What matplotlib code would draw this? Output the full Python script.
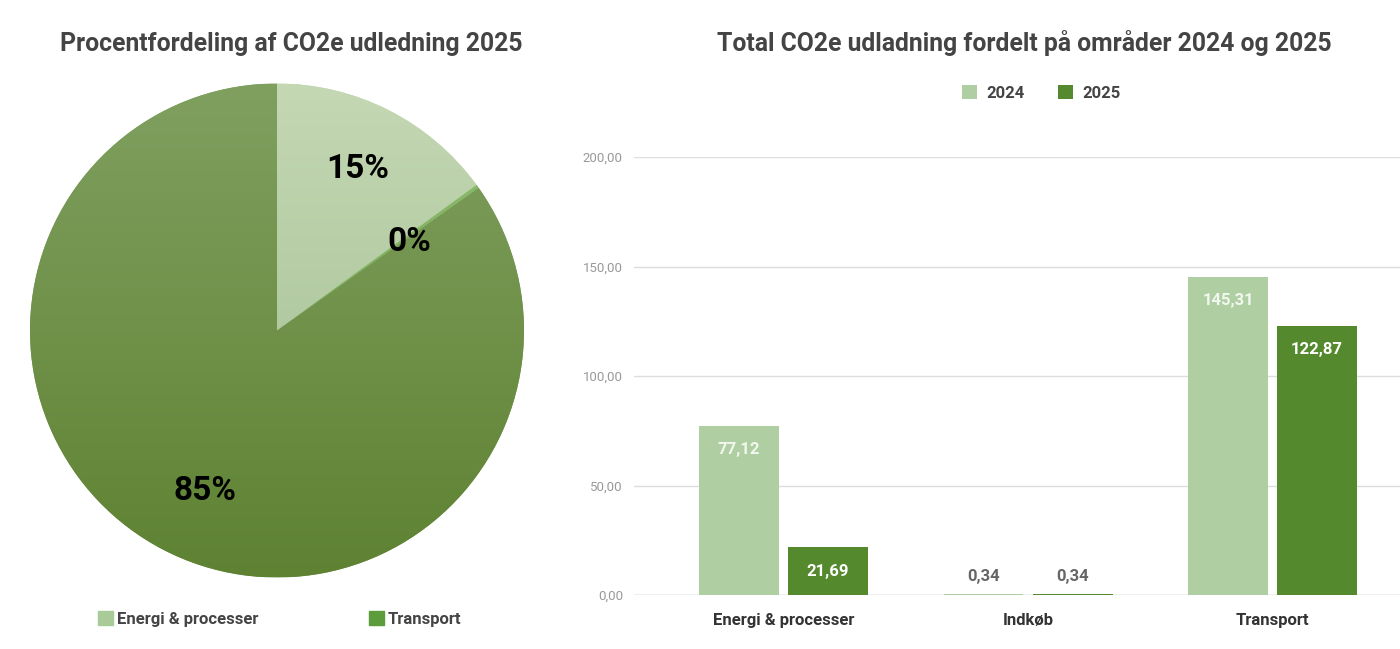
import matplotlib
matplotlib.use('Agg')
import matplotlib.pyplot as plt
import numpy as np
from matplotlib.colors import LinearSegmentedColormap
from matplotlib.patches import Patch

plt.rcParams['font.family'] = ['Roboto', 'DejaVu Sans']

# data
categories = ['Energi & processer', 'Indkøb', 'Transport']
values_2024 = [77.12, 0.34, 145.31]
values_2025 = [21.69, 0.34, 122.87]
years = ['2024', '2025']
yticks = [0, 50, 100, 150, 200]

pie_title = 'Procentfordeling af CO2e udledning 2025'
bar_title = 'Total CO2e udladning fordelt på områder 2024 og 2025'

# colors
c_2024 = '#afcea2'
c_2025 = '#548a2d'
pie_grad = [('#c4d8b3', '#9fbb90'), ('#8fc070', '#6d9e4f'), ('#80a060', '#5e8232')]
pie_legend_cols = ['#a8cb98', '#5c9c3b']
txt_dark = '#444444'


def fmt(v):
    return f'{v:.2f}'.replace('.', ',')


fig = plt.figure(figsize=(14, 6.49), dpi=100)

# ---- pie ----
W, H = 1400, 649
axp = fig.add_axes([30 / W, (H - 578) / H, 494 / W, 495 / H])
wedges, texts, autotexts = axp.pie(values_2025, startangle=90, counterclock=False,
                                   autopct='%.0f%%', pctdistance=0.72,
                                   wedgeprops=dict(linewidth=0),
                                   textprops=dict(fontsize=24, fontweight='bold', color='black'))
grad = np.linspace(0, 1, 256).reshape(-1, 1)
for w, (top, bot) in zip(wedges, pie_grad):
    cmap = LinearSegmentedColormap.from_list('g', [top, bot])
    im = axp.imshow(grad, cmap=cmap, extent=(-1, 1, -1, 1), origin='upper',
                    interpolation='bilinear', aspect='auto', zorder=1.5)
    im.set_clip_path(w)
    w.set_facecolor(top)
# small nudges of the percentage labels
nudge = [(0.0, 0.01), (0.01, -0.02), (0.04, -0.01)]
for t, (dx, dy) in zip(autotexts, nudge):
    px, py = t.get_position()
    t.set_position((px + dx, py + dy))
    t.set_zorder(3)
px, py = autotexts[1].get_position()
autotexts[1].set_position((px * 0.9, py * 0.9))
axp.set_xlim(-1, 1)
axp.set_ylim(-1, 1)
axp.set_aspect('equal')
axp.axis('off')

fig.text(291 / W, 1 - 44 / H, pie_title, ha='center', va='center',
         fontsize=17.8, fontweight='bold', color=txt_dark)

pie_handles = [Patch(color=pie_legend_cols[0], label=categories[0]),
               Patch(color=pie_legend_cols[1], label=categories[2])]
fig.legend(handles=pie_handles, loc='center left', bbox_to_anchor=(98 / W, 1 - 619 / H),
           ncol=2, frameon=False, borderpad=0, borderaxespad=0,
           handlelength=0.9, handleheight=0.9, handletextpad=0.25, columnspacing=6.6,
           prop=dict(size=12, weight='bold'), labelcolor=txt_dark)

# ---- bars ----
axb = fig.add_axes([634 / W, (H - 595) / H, 766 / W, 438 / H])
x = np.arange(len(categories))
bw = 0.327
off = 0.182
b1 = axb.bar(x - off, values_2024, bw, color=c_2024, label=years[0], zorder=2)
b2 = axb.bar(x + off, values_2025, bw, color=c_2025, label=years[1], zorder=2)

for bars, col_in in ((b1, '#f2f7ef'), (b2, 'white')):
    for r in bars:
        h = r.get_height()
        cx = r.get_x() + r.get_width() / 2
        if h > 10:
            axb.annotate(fmt(h), (cx, h), xytext=(0, -17), textcoords='offset points',
                         ha='center', va='center', fontsize=12, fontweight='bold', color=col_in)
        else:
            axb.annotate(fmt(h), (cx, h), xytext=(0, 13), textcoords='offset points',
                         ha='center', va='center', fontsize=12, fontweight='bold', color='#666666')

axb.set_ylim(0, 200)
axb.set_xlim(-0.611, 2.521)
axb.set_yticks(yticks)
axb.set_yticklabels([fmt(v) for v in yticks])
axb.set_xticks(x)
axb.set_xticklabels(categories)
axb.tick_params(axis='y', length=0, pad=8, labelsize=9.5, labelcolor='#999999')
axb.tick_params(axis='x', length=0, pad=13, labelsize=12, labelcolor='#333333')
for lab in axb.get_xticklabels():
    lab.set_fontweight('bold')
axb.grid(axis='y', color='#dddddd', linewidth=1, zorder=0)
axb.set_axisbelow(True)
for s in axb.spines.values():
    s.set_visible(False)
axb.axhline(0, color='#cccccc', linewidth=1, zorder=1)

fig.text(1024 / W, 1 - 43 / H, bar_title, ha='center', va='center',
         fontsize=17.8, fontweight='bold', color=txt_dark)
fig.legend(handles=[b1, b2], loc='center left', bbox_to_anchor=(962 / W, 1 - 93 / H),
           ncol=2, frameon=False, borderpad=0, borderaxespad=0,
           handlelength=0.9, handleheight=0.9, handletextpad=0.55, columnspacing=2.0,
           prop=dict(size=12, weight='bold'), labelcolor=txt_dark)

fig.savefig('out.png', dpi=100, facecolor='white')
